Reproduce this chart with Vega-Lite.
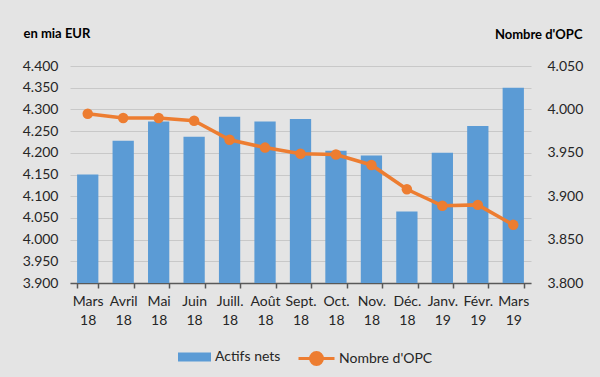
{
  "$schema": "https://vega.github.io/schema/vega-lite/v6.json",
  "width": 461,
  "height": 217,
  "autosize": {"type": "none"},
  "padding": {"left": 70, "top": 66, "right": 69, "bottom": 94},
  "background": "#e4e4e4",
  "config": {
    "view": {"stroke": null},
    "font": "Lato",
    "locale": {"number": {"decimal": ",", "thousands": ".", "grouping": [3], "currency": ["", " €"]}},
    "axis": {"labelFont": "Lato", "labelFontSize": 14, "labelColor": "#262626", "titleFont": "Lato"},
    "legend": {"labelFont": "Lato", "labelFontSize": 14, "labelColor": "#262626", "padding": 0}
  },
  "data": {
    "values": [
      {"month": "Mars 18", "actifs": 4150, "opc": 3995},
      {"month": "Avril 18", "actifs": 4228, "opc": 3990},
      {"month": "Mai 18", "actifs": 4272, "opc": 3990},
      {"month": "Juin 18", "actifs": 4237, "opc": 3987},
      {"month": "Juill. 18", "actifs": 4283, "opc": 3965},
      {"month": "Août 18", "actifs": 4272, "opc": 3956},
      {"month": "Sept. 18", "actifs": 4278, "opc": 3949},
      {"month": "Oct. 18", "actifs": 4205, "opc": 3948},
      {"month": "Nov. 18", "actifs": 4194, "opc": 3936},
      {"month": "Déc. 18", "actifs": 4065, "opc": 3908},
      {"month": "Janv. 19", "actifs": 4200, "opc": 3889},
      {"month": "Févr. 19", "actifs": 4262, "opc": 3890},
      {"month": "Mars 19", "actifs": 4350, "opc": 3867}
    ]
  },
  "layer": [
    {
      "mark": {"type": "bar", "clip": true},
      "encoding": {
        "x": {
          "field": "month", "type": "nominal", "sort": null,
          "scale": {"paddingInner": 0.4, "paddingOuter": 0.2},
          "axis": {
            "title": null, "labelAngle": 0, "tickBand": "extent",
            "labelExpr": "split(datum.label, ' ')", "labelLineHeight": 19,
            "labelPadding": 6, "tickSize": 5, "tickColor": "#595959", "tickWidth": 1.5,
            "domainColor": "#595959", "domainWidth": 1.5, "grid": false
          }
        },
        "y": {
          "field": "actifs", "type": "quantitative",
          "scale": {"domain": [3900, 4400], "zero": false, "nice": false},
          "axis": {
            "title": "en mia EUR", "titleAngle": 0, "titleAlign": "left", "titleBaseline": "middle",
            "titleX": -47, "titleY": -33, "titleFontSize": 13, "titleFontWeight": "bold", "titleColor": "#000000",
            "values": [3900, 3950, 4000, 4050, 4100, 4150, 4200, 4250, 4300, 4350, 4400],
            "format": ",d", "domain": false, "ticks": false, "labelPadding": 12,
            "grid": true, "gridColor": "#c8c8c8", "gridWidth": 1
          }
        },
        "fill": {
          "datum": "Actifs nets",
          "scale": {"range": ["#5B9BD5"]},
          "legend": {
            "orient": "none", "legendX": 108, "legendY": 274.5, "title": null,
            "symbolType": "M-1,-0.27H1V0.27H-1Z", "symbolSize": 1089, "labelOffset": 4,
            "symbolStrokeWidth": 0
          }
        }
      }
    },
    {
      "layer": [
        {
          "mark": {"type": "line", "strokeWidth": 3.5},
          "encoding": {
            "x": {"field": "month", "type": "nominal", "sort": null},
            "y": {
              "field": "opc", "type": "quantitative",
              "scale": {"domain": [3800, 4050], "zero": false, "nice": false},
              "axis": {
                "orient": "right",
                "title": "Nombre d'OPC", "titleAngle": 0, "titleAlign": "right", "titleBaseline": "middle",
                "titleX": 51, "titleY": -32, "titleFontSize": 13, "titleFontWeight": "bold", "titleColor": "#000000",
                "values": [3800, 3850, 3900, 3950, 4000, 4050],
                "format": ",d", "domain": false, "ticks": false, "labelPadding": 16, "grid": false
              }
            },
            "stroke": {
              "datum": "Nombre d'OPC",
              "scale": {"range": ["#ED7D31"]},
              "legend": {
                "orient": "none", "legendX": 227, "legendY": 273, "title": null,
                "symbolType": "M-1,0H1M-0.33,0A0.33,0.33 0 1,1 0.33,0A0.33,0.33 0 1,1 -0.33,0Z",
                "symbolSize": 1296, "labelOffset": 3, "symbolStrokeWidth": 3,
                "symbolFillColor": "#ED7D31",
                "encode": {"symbols": {"update": {"fill": {"value": "#ED7D31"}}}}
              }
            }
          }
        },
        {
          "mark": {"type": "point", "filled": true, "size": 110, "color": "#ED7D31", "opacity": 1},
          "encoding": {
            "x": {"field": "month", "type": "nominal", "sort": null},
            "y": {"field": "opc", "type": "quantitative"}
          }
        }
      ]
    }
  ],
  "resolve": {"scale": {"y": "independent"}}
}
